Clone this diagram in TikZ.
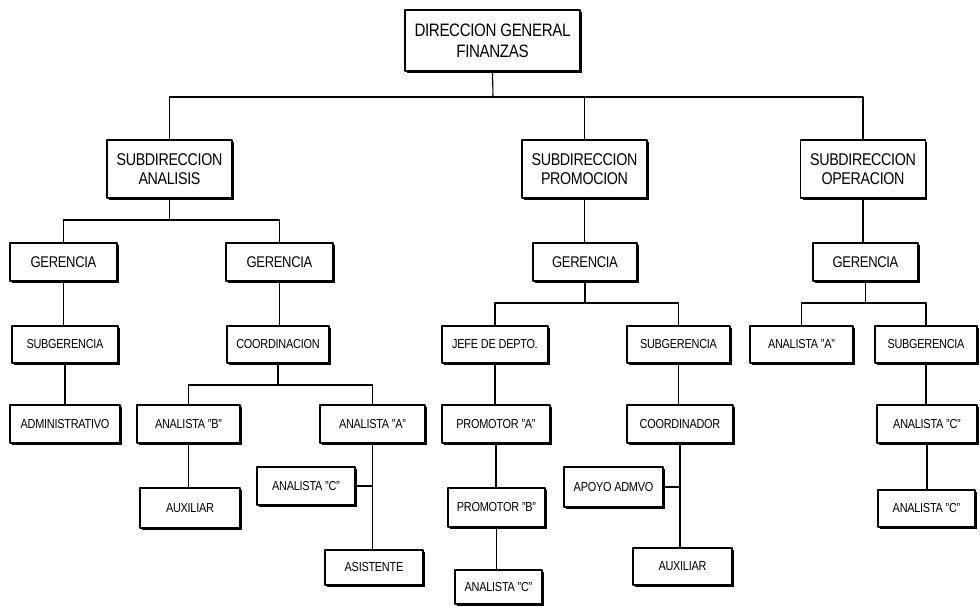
\documentclass[tikz,border=0pt]{standalone}
\usepackage{fontspec}
\setmainfont{Liberation Sans}[FakeStretch=0.84,LetterSpace=-2]
\begin{document}
\begin{tikzpicture}[x=1pt,y=-1pt,line join=round,line cap=round,line width=1.1pt]
	\tikzset{caja/.style={draw,fill=white,inner sep=1pt,align=center,font=\fontsize{13}{14}\selectfont},
		sub/.style={caja,minimum width=125,minimum height=58,font=\fontsize{17}{19}\selectfont},
		ger/.style={caja,minimum height=38,font=\fontsize{15.5}{17}\selectfont},
		sombra/.style={line width=2.8pt,line cap=butt,line join=miter}}
	\useasboundingbox (0,0) rectangle (980,606);
	\node[caja,minimum width=175,minimum height=61,font=\fontsize{18}{21}\selectfont] (dir) at (492.5,40.5) {DIRECCION GENERAL\\FINANZAS};
	\node[sub] (subA) at (169.5,169) {SUBDIRECCION\\ANALISIS};
	\node[sub] (subP) at (584.5,169) {SUBDIRECCION\\PROMOCION};
	\node[sub] (subO) at (863,169) {SUBDIRECCION\\OPERACION};
	\node[ger,minimum width=107] (gerA1) at (63.5,262) {GERENCIA};
	\node[ger,minimum width=107] (gerA2) at (279.5,262) {GERENCIA};
	\node[ger,minimum width=104] (gerP) at (585,262) {GERENCIA};
	\node[ger,minimum width=105] (gerO) at (865.5,262) {GERENCIA};
	\node[caja,minimum width=106,minimum height=37] (subgA) at (65,344.5) {SUBGERENCIA};
	\node[caja,minimum width=102,minimum height=37] (coordA) at (278,344.5) {COORDINACION};
	\node[caja,minimum width=106,minimum height=37] (jefe) at (495,344.5) {JEFE DE DEPTO.};
	\node[caja,minimum width=103,minimum height=37] (subgP) at (678.5,344.5) {SUBGERENCIA};
	\node[caja,minimum width=103,minimum height=37] (anaAO) at (801.5,344.5) {ANALISTA "A"};
	\node[caja,minimum width=102,minimum height=37] (subgO) at (926,344.5) {SUBGERENCIA};
	\node[caja,minimum width=110,minimum height=38] (adm) at (65,424) {ADMINISTRATIVO};
	\node[caja,minimum width=103,minimum height=38] (anaB) at (188.5,424) {ANALISTA "B"};
	\node[caja,minimum width=105,minimum height=38] (anaAA) at (372.5,424) {ANALISTA "A"};
	\node[caja,minimum width=108,minimum height=38] (promA) at (496,424) {PROMOTOR "A"};
	\node[caja,minimum width=106,minimum height=38] (coordor) at (680,424) {COORDINADOR};
	\node[caja,minimum width=100,minimum height=38] (anaC1) at (927,424) {ANALISTA "C"};
	\node[caja,minimum width=100,minimum height=40] (aux1) at (190,508) {AUXILIAR};
	\node[caja,minimum width=98,minimum height=38] (anaCl) at (306,486) {ANALISTA "C"};
	\node[caja,minimum width=97,minimum height=39] (promB) at (496.5,507.5) {PROMOTOR "B"};
	\node[caja,minimum width=99,minimum height=40] (apoyo) at (613.5,487) {APOYO ADMVO};
	\node[caja,minimum width=97,minimum height=37] (anaC2) at (926.5,508.5) {ANALISTA "C"};
	\node[caja,minimum width=98,minimum height=35] (asist) at (374,567.5) {ASISTENTE};
	\node[caja,minimum width=87,minimum height=34] (anaCb) at (498.5,587) {ANALISTA "C"};
	\node[caja,minimum width=99,minimum height=37] (aux2) at (682.5,566.5) {AUXILIAR};
	\foreach \n in {dir,subA,subP,subO,gerA1,gerA2,gerP,gerO,subgA,coordA,jefe,subgP,anaAO,subgO,adm,anaB,anaAA,promA,coordor,anaC1,aux1,anaCl,promB,apoyo,anaC2,asist,anaCb,aux2}
		\draw[sombra] ([yshift=-3pt]\n.north east) -- (\n.south east) -- ([xshift=3pt]\n.south west);
	\coordinate (bus0) at (493,97);
	\coordinate (busA) at (170,220);
	\coordinate (busC) at (278,385);
	\coordinate (busP) at (587,303);
	\coordinate (busO) at (865,303);
	\draw (dir.south) -- (bus0);
	\draw (subA.north) |- (bus0) -| (subO.north);
	\draw (subP.north) -- (subP.north |- bus0);
	\draw (subA.south) -- (subA.south |- busA);
	\draw (gerA1.north) |- (busA) -| (gerA2.north);
	\draw (gerA1.south) -- (gerA1.south |- subgA.north);
	\draw (subgA.south) -- (subgA.south |- adm.north);
	\draw (gerA2.south) -- (gerA2.south |- coordA.north);
	\draw (coordA.south) -- (coordA.south |- busC);
	\draw (anaB.north) |- (busC) -| (anaAA.north);
	\draw (anaB.south) -- (anaB.south |- aux1.north);
	\draw (anaAA.south) -- (anaAA.south |- asist.north);
	\draw (anaCl.east) -- (anaCl.east -| anaAA.south);
	\draw (subP.south) -- (subP.south |- gerP.north);
	\draw (gerP.south) -- (gerP.south |- busP);
	\draw (jefe.north) |- (busP) -| (subgP.north);
	\draw (jefe.south) -- (jefe.south |- promA.north);
	\draw (promA.south) -- (promA.south |- promB.north);
	\draw (promB.south) -- (promB.south |- anaCb.north);
	\draw (subgP.south) -- (subgP.south |- coordor.north);
	\draw (coordor.south) -- (coordor.south |- aux2.north);
	\draw (apoyo.east) -- (apoyo.east -| coordor.south);
	\draw (subO.south) -- (subO.south |- gerO.north);
	\draw (gerO.south) -- (gerO.south |- busO);
	\draw (anaAO.north) |- (busO) -| (subgO.north);
	\draw (subgO.south) -- (subgO.south |- anaC1.north);
	\draw (anaC1.south) -- (anaC1.south |- anaC2.north);
\end{tikzpicture}
\end{document}
